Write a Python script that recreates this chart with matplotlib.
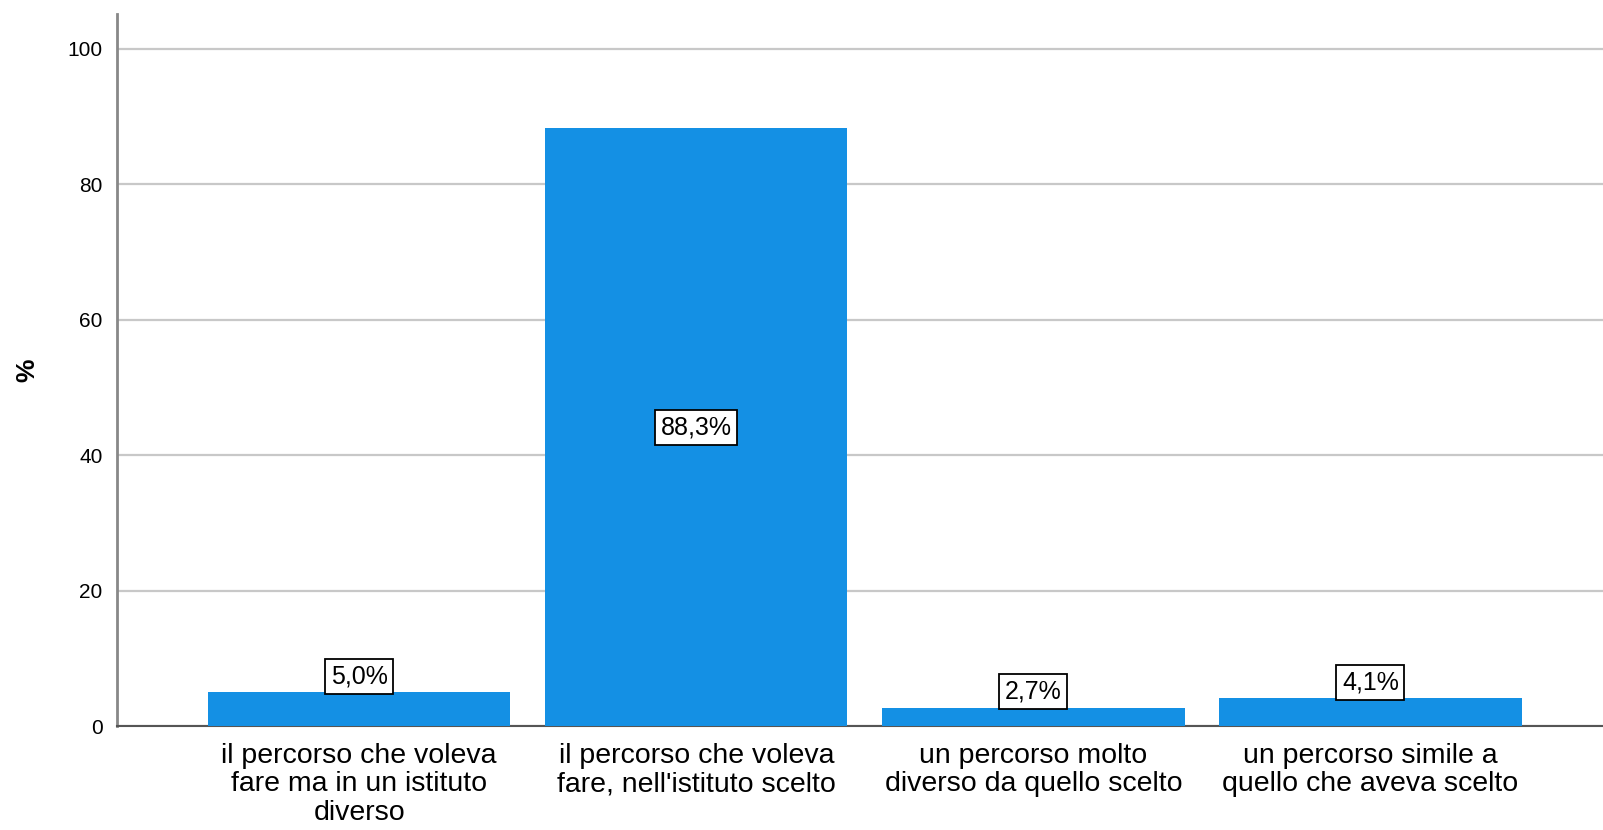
import matplotlib
matplotlib.use('Agg')
import matplotlib.pyplot as plt
import numpy as np

# data
categories = ['il percorso che voleva\nfare ma in un istituto\ndiverso',
              "il percorso che voleva\nfare, nell'istituto scelto",
              'un percorso molto\ndiverso da quello scelto',
              'un percorso simile a\nquello che aveva scelto']
values = [5.0, 88.3, 2.7, 4.1]
yticks = [0, 20, 40, 60, 80, 100]

plt.rcParams['font.family'] = ['Liberation Sans', 'DejaVu Sans']

fig = plt.figure(figsize=(16.03, 8.30), dpi=100)
ax = fig.add_axes([0.0727, 0.1253, 0.9273, 0.8575])

x = np.arange(len(values))
bars = ax.bar(x, values, width=0.897, color='#1490e4', zorder=3)

for xi, v in zip(x, values):
    lab = f'{v:.1f}%'.replace('.', ',')
    box = dict(boxstyle='square,pad=0.22', fc='white', ec='black', lw=1.3)
    if v > 20:
        ax.text(xi, v / 2, lab, ha='center', va='center', fontsize=18, zorder=5, bbox=box)
    else:
        ax.text(xi, v + 0.6, lab, ha='center', va='bottom', fontsize=18, zorder=5, bbox=box)

ax.set_xlim(-0.72, 3.69)
ax.set_ylim(0, 105.1)
ax.set_yticks(yticks)
ax.set_yticklabels([str(t) for t in yticks], fontsize=15)
ax.set_xticks(x)
ax.set_xticklabels(categories, fontsize=20.5, linespacing=1.13)
ax.tick_params(axis='both', length=0)
ax.tick_params(axis='x', pad=12)
ax.tick_params(axis='y', pad=10)
ax.yaxis.grid(True, color='#c8c8c8', lw=1.6, zorder=0)
ax.set_axisbelow(True)

for s in ['top', 'right']:
    ax.spines[s].set_visible(False)
ax.spines['left'].set_color('#888888')
ax.spines['left'].set_linewidth(2)
ax.spines['bottom'].set_color('#555555')
ax.spines['bottom'].set_linewidth(1.5)

ax.set_ylabel('%', fontsize=19, fontweight='bold', labelpad=20)

fig.savefig('out.png', dpi=100)
